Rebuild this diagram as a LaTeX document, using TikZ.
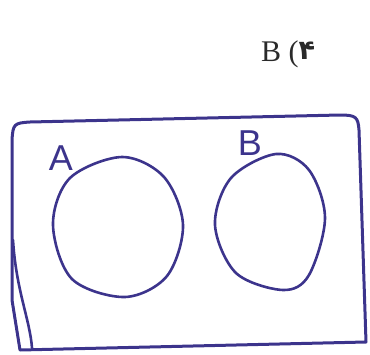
\documentclass[tikz,border=0pt]{standalone}
\usepackage{fontspec}
\setmainfont{Liberation Serif}
\newfontfamily\handfont{Liberation Sans}
\newfontfamily\arabicfont[Script=Arabic]{DejaVu Sans}
\usetikzlibrary{positioning}
\definecolor{penviolet}{HTML}{3C348C}
\definecolor{printgray}{HTML}{2A2A2A}

\begin{document}
\begin{tikzpicture}[
  x=1pt,y=-1pt,
  pen/.style={draw=penviolet,line width=2.6pt,line join=round,line cap=round},
  frame/.style={pen,line width=3pt},
  setlabel/.style={text=penviolet,font=\handfont\fontsize{36}{36}\selectfont,inner sep=0pt},
  question/.style={text=printgray,font=\fontsize{30}{30}\selectfont,inner sep=0pt}
]
  \useasboundingbox (0,0) rectangle (370,354);

  % option label
  \node[question] (opt) at (288,54) {B (\raisebox{0.1ex}{\arabicfont\fontsize{27}{27}\selectfont\bfseries ۴}};

  % universal set
  \draw[frame] (12,140) .. controls (13,124) and (14,123) .. (30,122)
    -- (340,115) .. controls (356,115) and (358,117) .. (359,130)
    -- (366,342) -- (20,350) -- (12,300) -- cycle;
  \draw[pen] (13,240) .. controls (16,290) and (30,320) .. (32,348);

  % set A
  \draw[pen] plot[smooth cycle,tension=0.55] coordinates
    {(122,157) (164,177) (183,225) (167,276) (125,297) (72,279) (53,225) (70,178)};
  \node[setlabel] (labA) at (61,158) {A};

  % set B
  \draw[pen] plot[smooth cycle,tension=0.55] coordinates
    {(276,154) (309,170) (325,218) (309,275) (283,290) (236,273) (215,225) (231,178)};
  \node[setlabel] (labB) at (250,143) {B};
\end{tikzpicture}
\end{document}
